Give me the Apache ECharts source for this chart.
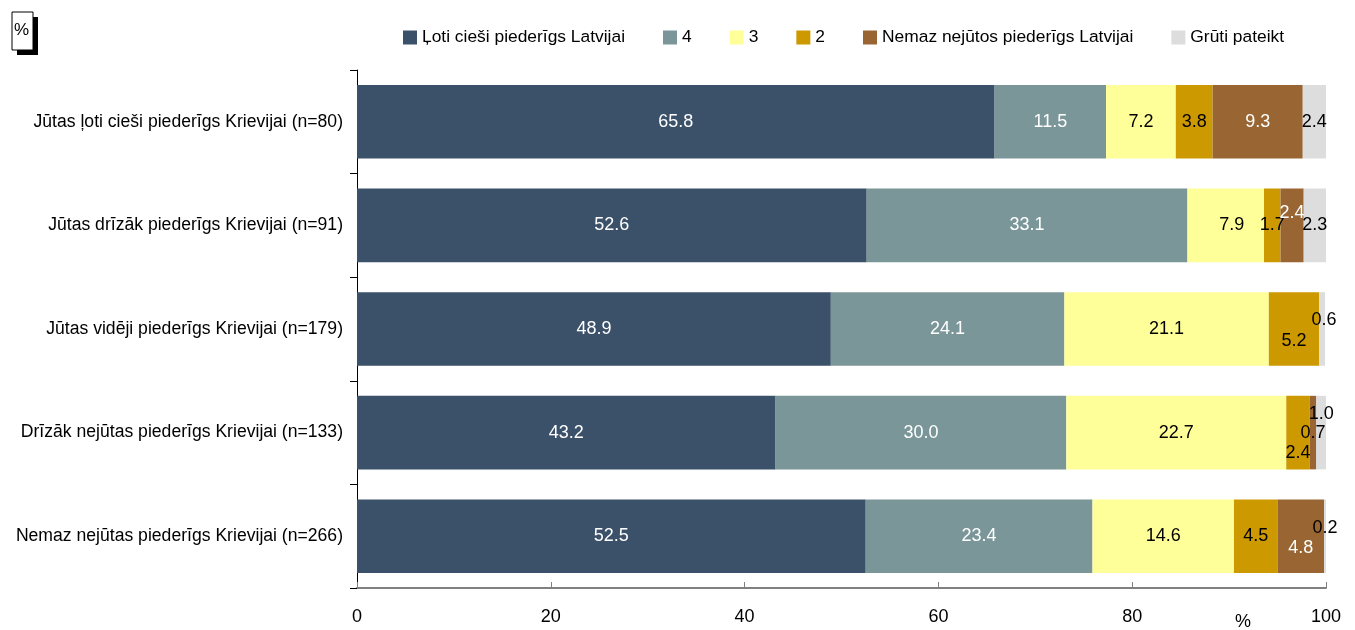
<!DOCTYPE html>
<html><head><meta charset="utf-8">
<script src="https://cdn.jsdelivr.net/npm/echarts@6/dist/echarts.min.js"></script>
<style>html,body{margin:0;padding:0;background:#fff}#c{width:1355px;height:630px}</style>
</head><body><div id="c"></div>
<script>
const categories = [
  'Jūtas ļoti cieši piederīgs Krievijai (n=80)',
  'Jūtas drīzāk piederīgs Krievijai (n=91)',
  'Jūtas vidēji piederīgs Krievijai (n=179)',
  'Drīzāk nejūtas piederīgs Krievijai (n=133)',
  'Nemaz nejūtas piederīgs Krievijai (n=266)'
];
const seriesNames = ['Ļoti cieši piederīgs Latvijai','4','3','2','Nemaz nejūtos piederīgs Latvijai','Grūti pateikt'];
const s1 = [65.8, 52.6, 48.9, 43.2, 52.5];
const s4 = [11.5, 33.1, 24.1, 30.0, 23.4];
const s3 = [7.2, 7.9, 21.1, 22.7, 14.6];
const s2 = [3.8, 1.7, 5.2, 2.4, 4.5];
const sNemaz = [9.3, 2.4, 0, 0.7, 4.8];
const sGruti = [2.4, 2.3, 0.6, 1.0, 0.2];
const xTicks = [0, 20, 40, 60, 80, 100];

const seriesData = [s1, s4, s3, s2, sNemaz, sGruti];
const colors = ['#3b5069', '#7b9699', '#ffff99', '#cc9900', '#996633', '#dddddd'];
const labelColors = ['#fff', '#fff', '#000', '#000', '#fff', '#000'];
// label placement tweaks: [seriesIndex][rowIndex] -> {offset, color}
const tweaks = {
  '2-1': {offset: [6, 0]},
  '4-1': {offset: [0, -12]},
  '3-2': {offset: [0, 12]},
  '5-2': {offset: [2, -9]},
  '5-3': {offset: [0, -19]},
  '4-3': {offset: [0, 0], color: '#000'},
  '3-3': {offset: [0, 20]},
  '4-4': {offset: [0, 12]},
  '5-4': {offset: [0, -8]}
};

const chart = echarts.init(document.getElementById('c'));
const font = 'Liberation Sans, Arial, sans-serif';
const series = seriesData.map((arr, si) => ({
  name: seriesNames[si],
  type: 'bar',
  stack: 'total',
  barWidth: '71%',
  itemStyle: {color: colors[si]},
  label: {
    show: true, position: 'inside', color: labelColors[si],
    fontFamily: font, fontSize: 18,
    formatter: p => p.value.toFixed(1)
  },
  emphasis: {disabled: true},
  data: arr.map((v, ri) => {
    const t = tweaks[si + '-' + ri];
    const item = {value: v};
    if (v === 0) item.label = {show: false};
    else if (t) item.label = Object.assign({}, t.offset ? {offset: t.offset} : {}, t.color ? {color: t.color} : {});
    return item;
  })
}));

chart.setOption({
  animation: false,
  textStyle: {fontFamily: font},
  legend: {
    top: 24, left: 398, itemWidth: 14, itemHeight: 14, itemGap: 38,
    icon: 'rect',
    textStyle: {fontSize: 17.4, color: '#000', fontFamily: font},
    data: seriesNames
  },
  grid: {left: 357, right: 29, top: 70, bottom: 42, containLabel: false},
  xAxis: {
    type: 'value', min: 0, max: 100, interval: 20,
    axisLine: {show: true, lineStyle: {color: '#808080', width: 2}},
    axisTick: {show: true, inside: true, length: 6, lineStyle: {color: '#808080'}},
    axisLabel: {color: '#000', fontSize: 18, margin: 20, fontFamily: font,
      formatter: v => xTicks.includes(v) ? String(v) : ''},
    splitLine: {show: false}
  },
  yAxis: {
    type: 'category', inverse: true, data: categories,
    axisLine: {show: true, lineStyle: {color: '#000', width: 1}},
    axisTick: {show: true, length: 7, lineStyle: {color: '#000'}},
    axisLabel: {color: '#000', fontSize: 17.6, margin: 14, fontFamily: font}
  },
  graphic: [
    {type: 'rect', shape: {x: 17, y: 17, width: 21, height: 38}, style: {fill: '#000'}},
    {type: 'rect', shape: {x: 12, y: 12, width: 21, height: 38}, style: {fill: '#fff', stroke: '#000', lineWidth: 1}},
    {type: 'text', left: 14, top: 22, style: {text: '%', fontSize: 17, fontFamily: font, fill: '#000'}},
    {type: 'text', left: 1235, top: 613, style: {text: '%', fontSize: 18, fontFamily: font, fill: '#000'}}
  ],
  series
});
</script></body></html>
